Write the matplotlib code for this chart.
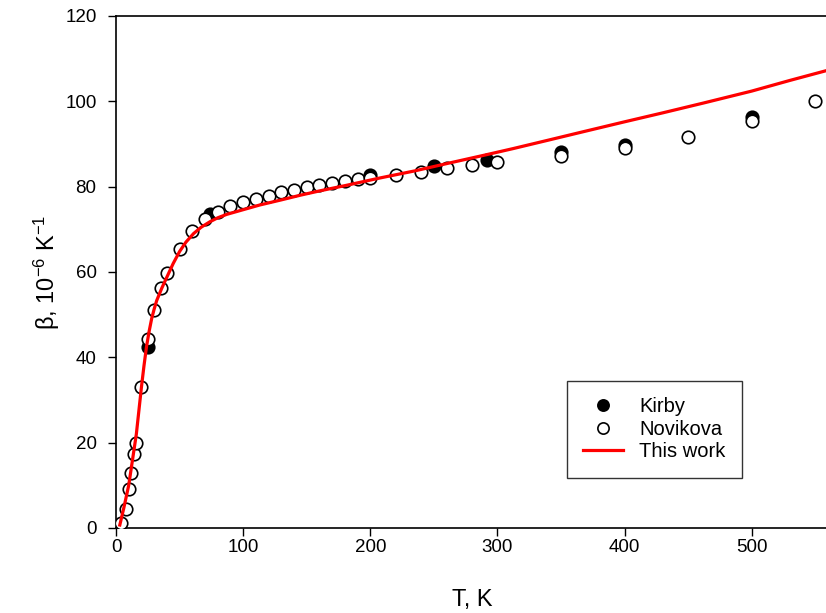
import matplotlib.pyplot as plt

plt.rcParams['font.family'] = ['Liberation Sans', 'DejaVu Sans']

# Kirby (filled circles)
kirby_T = [25, 74, 200, 250, 292, 350, 400, 500]
kirby_b = [42.5, 73.7, 82.8, 84.8, 86.2, 88.1, 89.7, 96.4]

# Novikova (open circles)
nov_T = [4, 8, 10, 12, 14, 16, 20, 25, 30, 35, 40, 50, 60, 70, 80, 90, 100,
         110, 120, 130, 140, 150, 160, 170, 180, 190, 200, 220, 240, 260,
         280, 300, 350, 400, 450, 500, 550]
nov_b = [1.2, 4.4, 9.1, 12.8, 17.3, 20.0, 33.1, 44.2, 51.1, 56.2, 59.8, 65.4,
         69.7, 72.4, 74.1, 75.5, 76.3, 77.1, 77.9, 78.7, 79.3, 80.0, 80.5,
         80.9, 81.4, 81.8, 82.1, 82.8, 83.5, 84.4, 85.1, 85.8, 87.2, 89.0,
         91.6, 95.4, 100.0]

# This work (fitted curve)
fit_T = [3, 6, 10, 13, 16, 18, 20, 22, 24, 26, 28, 30, 32, 36, 40, 45, 50,
         55, 61, 67, 74, 80, 87, 100, 113, 130, 145, 160, 181, 207, 235, 260,
         290, 312, 340, 365, 400, 430, 462, 500, 530, 560]
fit_b = [0.7, 4.5, 10.0, 16.0, 22.0, 27.5, 33.0, 38.0, 42.5, 46.0, 49.0,
         51.3, 53.3, 56.2, 58.8, 62.0, 64.8, 67.0, 69.0, 70.5, 71.8, 72.7,
         73.5, 74.6, 75.7, 76.9, 78.0, 79.0, 80.3, 82.0, 83.7, 85.4, 87.4,
         88.9, 90.9, 92.7, 95.2, 97.3, 99.6, 102.4, 104.9, 107.3]

fig = plt.figure(figsize=(8.26, 6.13), dpi=100)
ax = fig.add_axes([116 / 826, 85 / 613, 712 / 826, 512 / 613])

ax.plot(kirby_T, kirby_b, 'o', ms=9, mfc='black', mec='black', mew=1.2,
        label='Kirby', zorder=3)
ax.plot(nov_T, nov_b, 'o', ms=9, mfc='white', mec='black', mew=1.2,
        label='Novikova', zorder=4)
ax.plot(fit_T, fit_b, '-', color='#ff0000', lw=2.3, label='This work',
        zorder=5)

ax.set_xlim(0, 560)
ax.set_ylim(0, 120)
ax.set_xticks([0, 100, 200, 300, 400, 500])
ax.set_yticks([0, 20, 40, 60, 80, 100, 120])
ax.tick_params(direction='out', length=6, width=1, labelsize=13.5)
ax.tick_params(axis='x', pad=2)
ax.tick_params(axis='y', pad=8)
ax.spines['right'].set_visible(False)
for s in ['left', 'bottom', 'top']:
    ax.spines[s].set_linewidth(1.2)

ax.set_xlabel('T, K', fontsize=17, labelpad=24)
ax.set_ylabel(r'β, 10$\mathregular{^{-6}}$ K$\mathregular{^{-1}}$',
              fontsize=17, labelpad=2)

leg = ax.legend(loc='upper left', bbox_to_anchor=(0.633, 0.287),
                fontsize=14.5, frameon=True, fancybox=False,
                edgecolor='black', markerscale=0.9, handlelength=2.0,
                borderpad=0.8, labelspacing=0.18, borderaxespad=0)
leg.get_frame().set_linewidth(1.0)

fig.savefig('out.png', dpi=100)
